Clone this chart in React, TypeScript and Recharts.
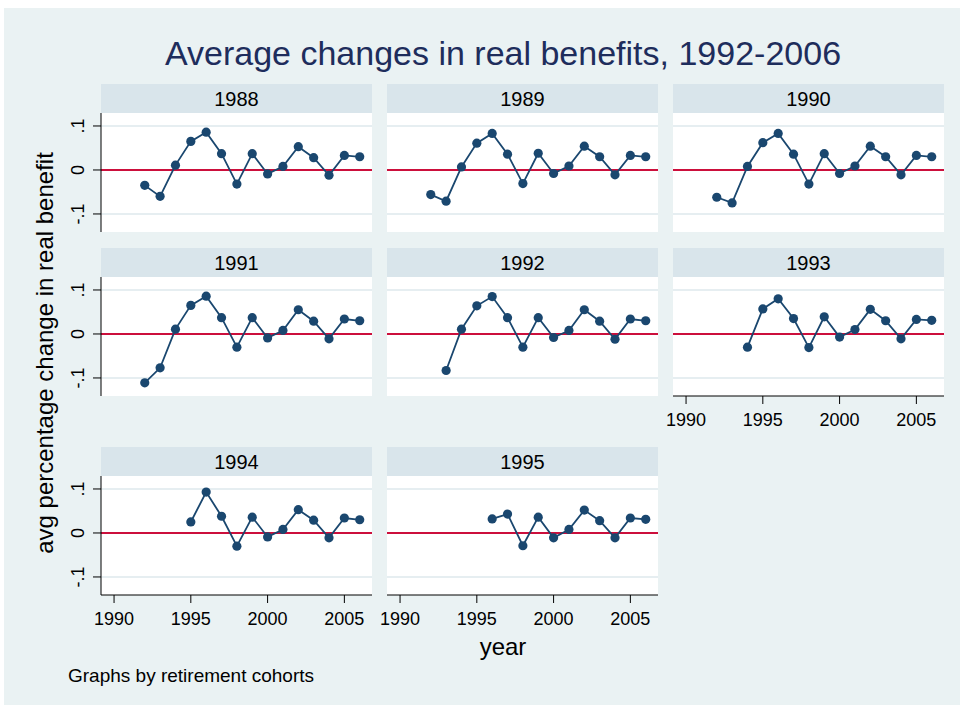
import { Line, LineChart, ReferenceLine, XAxis, YAxis } from "recharts";

const YEARS = [1992, 1993, 1994, 1995, 1996, 1997, 1998, 1999, 2000, 2001, 2002, 2003, 2004, 2005, 2006];
const COHORTS = ["1988", "1989", "1990", "1991", "1992", "1993", "1994", "1995"];

const v1988 = [-0.035, -0.06, 0.011, 0.065, 0.086, 0.037, -0.032, 0.037, -0.009, 0.008, 0.053, 0.028, -0.012, 0.033, 0.03];
const v1989 = [-0.056, -0.071, 0.007, 0.061, 0.083, 0.036, -0.031, 0.038, -0.008, 0.009, 0.054, 0.03, -0.011, 0.033, 0.03];
const v1990 = [-0.062, -0.075, 0.008, 0.062, 0.083, 0.036, -0.032, 0.037, -0.008, 0.009, 0.054, 0.03, -0.011, 0.033, 0.03];
const v1991 = [-0.111, -0.077, 0.011, 0.065, 0.086, 0.037, -0.03, 0.037, -0.009, 0.008, 0.055, 0.029, -0.011, 0.034, 0.03];
const v1992 = [null, -0.083, 0.011, 0.064, 0.085, 0.037, -0.03, 0.037, -0.008, 0.008, 0.055, 0.029, -0.012, 0.034, 0.03];
const v1993 = [null, null, -0.03, 0.057, 0.08, 0.035, -0.031, 0.039, -0.007, 0.01, 0.056, 0.03, -0.011, 0.033, 0.031];
const v1994 = [null, null, null, 0.025, 0.093, 0.038, -0.03, 0.036, -0.009, 0.008, 0.053, 0.029, -0.011, 0.034, 0.03];
const v1995 = [null, null, null, null, 0.032, 0.043, -0.029, 0.036, -0.011, 0.008, 0.052, 0.028, -0.011, 0.034, 0.031];

const SERIES = [v1988, v1989, v1990, v1991, v1992, v1993, v1994, v1995];
const X_TICKS = [1990, 1995, 2000, 2005];
const Y_TICKS = [-0.1, 0, 0.1];

const X_DOMAIN = [1989.15, 2006.8];
const Y_DOMAIN = [-0.141, 0.1295];

const FONT = "'Liberation Sans', Arial, sans-serif";
const NAVY = "#1a476f";
const BG = "#eaf2f3";
const STRIP = "#d9e5eb";
const GRID = "#e6eef1";
const RED = "#cc0f3c";

// panel geometry (page pixels)
const COL_X = [101, 387, 673];
const STRIP_TOP = [84, 248, 447];
const STRIP_H = 29;
const PLOT_W = 271;
const PLOT_H = 119;
const Y_AXIS_W = 40;
const X_AXIS_H = 40;
const SIDE_PAD = 24; // room for the first x label when there is no y axis

const fmtY = (v: number) => String(v).replace("0.", ".");

const YTick = ({ x, y, payload }: any) => (
  <text
    x={x}
    y={y}
    transform={`rotate(-90 ${x} ${y})`}
    textAnchor="middle"
    fontSize={18}
    fontFamily={FONT}
    fill="#000"
  >
    {fmtY(payload.value)}
  </text>
);

const XTick = ({ x, y, payload }: any) => (
  <text x={x} y={y + 18} textAnchor="middle" fontSize={18} fontFamily={FONT} fill="#000">
    {payload.value}
  </text>
);

function Panel({ index }: { index: number }) {
  const row = Math.floor(index / 3);
  const col = index % 3;
  const showY = col === 0;
  const showX = index >= 5;
  const extra = showY ? Y_AXIS_W : showX ? SIDE_PAD : 0;
  const xh = showX ? X_AXIS_H : 0;
  const data = YEARS.map((year, i) => ({ year, value: SERIES[index][i] })).filter((d) => d.value !== null);

  return (
    <div style={{ position: "absolute", left: COL_X[col] - extra, top: STRIP_TOP[row] + STRIP_H }}>
      <LineChart
        width={PLOT_W + extra + (showX ? 20 : 0)}
        height={PLOT_H + xh}
        data={data}
        margin={{ top: 0, right: showX ? 20 : 0, bottom: 0, left: showY ? 0 : extra }}
      >
        <XAxis
          type="number"
          dataKey="year"
          domain={X_DOMAIN}
          ticks={X_TICKS}
          interval={0}
          allowDataOverflow
          hide={!showX}
          height={xh}
          tickSize={8}
          tickMargin={4}
          tick={<XTick />}
          stroke="#000"
          tickLine={{ stroke: "#000" }}
        />
        <YAxis
          type="number"
          domain={Y_DOMAIN}
          ticks={Y_TICKS}
          interval={0}
          allowDataOverflow
          hide={!showY}
          width={showY ? Y_AXIS_W : 0}
          tickSize={8}
          tickMargin={9}
          tick={<YTick />}
          stroke="#000"
          tickLine={{ stroke: "#000" }}
        />
        <ReferenceLine y={0.1} stroke={GRID} strokeWidth={2} />
        <ReferenceLine y={-0.1} stroke={GRID} strokeWidth={2} />
        <ReferenceLine y={0} stroke={RED} strokeWidth={2} />
        <Line
          dataKey="value"
          stroke={NAVY}
          strokeWidth={1.8}
          dot={{ r: 4.6, fill: NAVY, stroke: NAVY, strokeWidth: 0 }}
          activeDot={false}
          isAnimationActive={false}
        />
      </LineChart>
    </div>
  );
}

export default function App() {
  return (
    <div style={{ position: "absolute", left: 0, top: 0, width: 965, height: 710, background: "#fff", fontFamily: FONT }}>
      <svg width={965} height={710} style={{ position: "absolute", left: 0, top: 0 }}>
        <rect x={4} y={8} width={956} height={697} fill={BG} />
        {COHORTS.map((label, i) => {
          const row = Math.floor(i / 3);
          const col = i % 3;
          const x = COL_X[col];
          const top = STRIP_TOP[row];
          return (
            <g key={label}>
              <rect x={x} y={top} width={PLOT_W} height={STRIP_H} fill={STRIP} />
              <rect x={x} y={top + STRIP_H} width={PLOT_W} height={PLOT_H} fill="#fff" />
              <text x={x + PLOT_W / 2} y={top + 21.5} textAnchor="middle" fontSize={20} fontFamily={FONT} fill="#000">
                {label}
              </text>
            </g>
          );
        })}
        <text x={503} y={65} textAnchor="middle" fontSize={34} fontFamily={FONT} fill="#1e2d5c">
          Average changes in real benefits, 1992-2006
        </text>
        <text x={503} y={655} textAnchor="middle" fontSize={24} fontFamily={FONT} fill="#000">
          year
        </text>
        <text
          x={53}
          y={353}
          transform="rotate(-90 53 353)"
          textAnchor="middle"
          fontSize={24}
          fontFamily={FONT}
          fill="#000"
        >
          avg percentage change in real benefit
        </text>
        <text x={68} y={682} fontSize={19} fontFamily={FONT} fill="#000">
          Graphs by retirement cohorts
        </text>
      </svg>
      {COHORTS.map((label, i) => (
        <Panel key={label} index={i} />
      ))}
    </div>
  );
}
